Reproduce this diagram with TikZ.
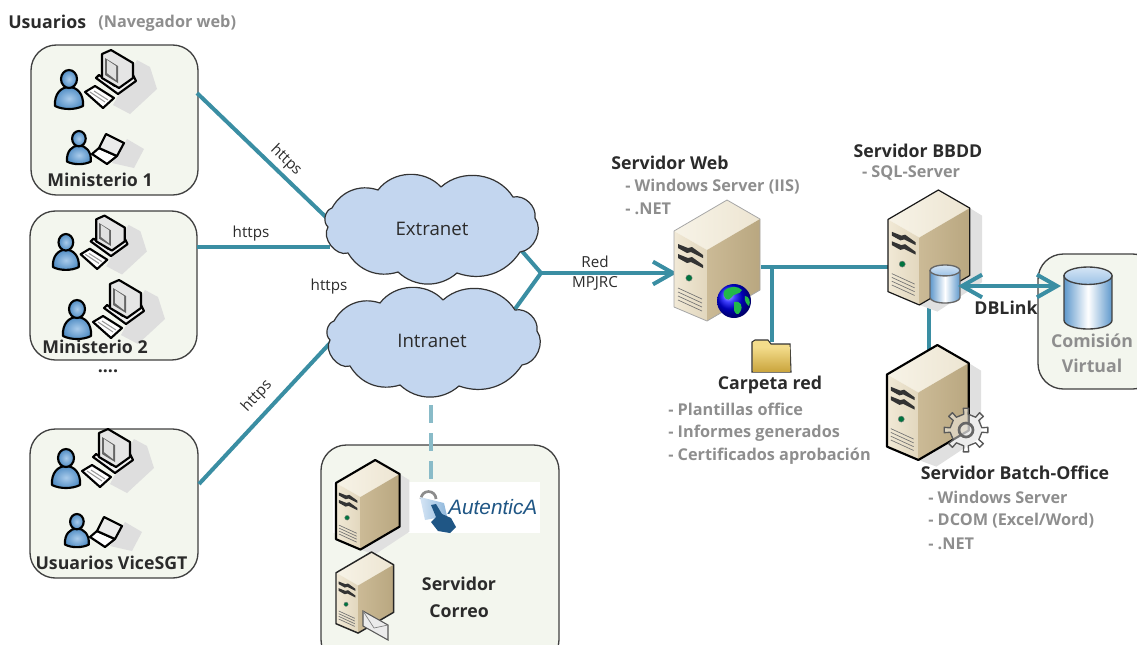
\documentclass[tikz,border=0pt]{standalone}
\usepackage{fontspec}
\setmainfont{Open Sans}
\usetikzlibrary{arrows.meta,calc}
\definecolor{teal1}{HTML}{3A8EA3}
\definecolor{boxfill}{HTML}{F3F6EE}
\definecolor{graytxt}{HTML}{8E8E8E}
\definecolor{darktxt}{HTML}{2B2B2B}
\definecolor{cloudfill}{HTML}{C3D6EF}
\definecolor{svtopa}{HTML}{F7F3E7}
\definecolor{svtopb}{HTML}{EDE5D2}
\definecolor{svlefta}{HTML}{F1E9D6}
\definecolor{sveftb}{HTML}{E2D7BE}
\definecolor{svra}{HTML}{CBBA96}
\definecolor{svrb}{HTML}{E6DCC5}
\definecolor{svrc}{HTML}{B9A780}
\definecolor{dbside}{HTML}{5E98CC}
\definecolor{dbtopa}{HTML}{D5E5F5}
\definecolor{dbtopb}{HTML}{9CC2E6}
\definecolor{persona}{HTML}{A9CBEB}
\definecolor{personb}{HTML}{4F8CC4}
\definecolor{hand}{HTML}{1F5685}
\definecolor{foldera}{HTML}{F3DC8B}
\definecolor{folderb}{HTML}{CBA63F}
\definecolor{globeland}{HTML}{22B84A}
\tikzset{
  conn/.style={draw=teal1,line width=3pt},
  headconn/.style={draw=teal1,line width=3pt,-{Straight Barb[length=15pt,width=17pt,line width=3pt]}},
  bothconn/.style={draw=teal1,line width=3pt,{Straight Barb[length=15pt,width=17pt,line width=3pt]}-{Straight Barb[length=15pt,width=17pt,line width=3pt]}},
  dashconn/.style={draw=teal1!60,line width=3pt,dash pattern=on 13.5pt off 7.5pt},
  roundbox/.style={draw=black!75,line width=1pt,fill=boxfill,rounded corners=19pt,inner sep=0pt},
  boldlbl/.style={font=\fontsize{13.3}{15}\selectfont\bfseries,text=darktxt,inner sep=0pt},
  graylbl/.style={font=\fontsize{12.2}{14}\selectfont\bfseries,text=graytxt,inner sep=0pt},
  smalllbl/.style={font=\fontsize{11.4}{13}\selectfont,text=darktxt,inner sep=0pt},
  cloudlbl/.style={font=\fontsize{14}{16}\selectfont,text=darktxt,inner sep=0pt},
  iconline/.style={draw=black,line width=1.6pt,line join=round},
}
\newcommand{\serverIcon}[5]{%
\begin{scope}[shift={(#1,#2)},scale=#3]
  \path[fill=#5] (86,19) -- (99,27) -- (99,97) -- (52,128) -- (33,121) -- cycle;
  \path[left color=svtopa,right color=svtopb] (0,31) -- (53,0) -- (86,19) -- (33,50) -- cycle;
  \path[left color=svlefta,right color=sveftb] (0,31) -- (33,50) -- (33,121) -- (0,107) -- cycle;
  \path[left color=svra,middle color=svrb,right color=svrc] (33,50) -- (86,19) -- (86,90) -- (33,121) -- cycle;
  \draw[#4,line join=round] (0,31) -- (53,0) -- (86,19) -- (86,90) -- (33,121) -- (0,107) -- cycle;
  \foreach \yy in {0,10}
    \fill[black!80] (4,{44+\yy}) -- (14,{48+\yy}) -- (18,{47+\yy}) -- (29,{55+\yy}) -- (29,{58+\yy}) -- (17,{52+\yy}) -- (13,{53+\yy}) -- (4,{48+\yy}) -- cycle;
  \fill[teal!70!green!70!black,draw=black!50,line width=.3pt] (15,78) circle (3.2);
  \foreach \yy in {0,4,8,12}
    \draw[black!55,line width=.5pt] (4,{88+\yy}) -- (28,{99+\yy});
\end{scope}}
\newcommand{\personIcon}{%
  \draw[iconline,inner color=persona,outer color=personb] (0,36) .. controls (-1,24) and (6,17) .. (14,17) .. controls (22,17) and (29,24) .. (28,36) .. controls (20,40) and (8,40) .. (0,36) -- cycle;
  \draw[iconline,inner color=persona,outer color=personb] (14,9) ellipse (8 and 9);
}
\newcommand{\deskUser}[3]{%
\begin{scope}[shift={(#1,#2)},scale=#3]
  \path[fill=black!13] (82,-10) -- (95,-3) -- (102,19) -- (75,44) -- (58,35) -- cycle;
  \personIcon
  \draw[iconline,fill=white] (30,22) -- (40,16) -- (59,28) -- (48,38) -- cycle;
  \draw[black!40,line width=.8pt] (35,22) -- (50,32) (39,21) -- (53,30);
  \draw[iconline,fill=black!6] (41,8) -- (63,24) -- (81,11) -- (78,5) -- (60,16) -- (44,5) -- cycle;
  \draw[iconline,fill=black!10] (47,-16) -- (56,-20) -- (78,-7) -- (78,8) -- (64,18) -- (47,8) -- cycle;
  \fill[black!60] (50,-12) -- (63,-4) -- (63,13) -- (50,5) -- cycle;
  \fill[black!12] (52,-10) -- (61,-4) -- (61,10) -- (52,3) -- cycle;
\end{scope}}
\newcommand{\lapUser}[3]{%
\begin{scope}[shift={(#1,#2)},scale=#3]
  \path[fill=black!13] (60,8) -- (77,18) -- (67,37) -- (45,32) -- cycle;
  \begin{scope}[scale=.85]\personIcon\end{scope}
  \draw[iconline,fill=white] (32,17) -- (50,25) -- (40,33) -- (25,23) -- cycle;
  \draw[iconline,fill=black!8] (39,3) -- (57,12) -- (50,25) -- (32,17) -- cycle;
\end{scope}}
\newcommand{\dbIcon}[5]{%
\begin{scope}[shift={(#1,#2)}]
  \pgfmathsetmacro{\rx}{#3/2}
  \pgfmathsetmacro{\ry}{#3/5.5}
  \draw[draw=#5,line width=1pt,left color=dbside,right color=dbside,middle color=white]
     (-\rx,\ry) -- (-\rx,{#4-\ry}) arc[start angle=180,end angle=360,x radius=\rx,y radius=-\ry] -- (\rx,\ry) -- cycle;
  \draw[draw=#5,line width=1pt,top color=dbtopa,bottom color=dbtopb] (0,\ry) ellipse ({\rx} and {\ry});
\end{scope}}
\newcommand{\cloudIcon}[2]{%
\begin{scope}[shift={(#1,#2)}]
 \draw[draw=black!80,line width=.9pt,fill=cloudfill]
  (121,7) to[bend left=50] (193,17) to[bend left=55] (215,38) to[bend left=60] (200,72)
  to[bend left=38] (137,93) to[bend left=42] (78,92) to[bend left=38] (28,73)
  to[bend left=70] (8,47) to[bend left=60] (12,28) to[bend left=40] (58,10) to[bend left=50] (121,7);
\end{scope}}
\begin{document}
\begin{tikzpicture}[x=.75pt,y=-.75pt]
\useasboundingbox (0,0) rectangle (1137,644);
\node[roundbox,minimum width=125.25pt,minimum height=112.5pt] (m1) at (114.5,120) {};
\node[roundbox,minimum width=125.25pt,minimum height=111.75pt] (m2) at (113.5,285.5) {};
\node[roundbox,minimum width=126pt,minimum height=111.75pt] (vice) at (114,503.5) {};
\node[roundbox,minimum width=178.5pt,minimum height=165pt] (correo) at (440,555) {};
\node[roundbox,minimum width=90pt,minimum height=101.25pt] (comis) at (1098,321.5) {};
\coordinate (m1out) at (197,93);
\coordinate (m2out) at (197,247);
\coordinate (viceout) at (199,484);
\coordinate (exin1) at (331,222);
\coordinate (exin2) at (330,247);
\coordinate (inin) at (331,342);
\coordinate (exout) at (521,250);
\coordinate (inout) at (515,309);
\coordinate (jn) at (541,273);
\coordinate (webin) at (677,273);
\coordinate (webout) at (761,267);
\coordinate (bbddin) at (889,267);
\coordinate (branch) at (772,267);
\coordinate (folderin) at (772,342);
\coordinate (bbddout) at (929,305);
\coordinate (batchin) at (929,350);
\coordinate (dbl) at (958,286);
\coordinate (dbr) at (1061,286);
\coordinate (intout) at (431,405);
\coordinate (autin) at (431,480);
\draw[conn] (m1out) -- (exin1);
\draw[conn] (m2out) -- (exin2);
\draw[conn] (viceout) -- (inin);
\draw[conn] (exout) -- (jn);
\draw[conn] (inout) -- (jn);
\draw[headconn] (jn) -- (webin);
\draw[conn] (webout) -- (bbddin);
\draw[conn] (branch) -- (folderin);
\draw[conn] (bbddout) -- (batchin);
\draw[dashconn] (intout) -- (autin);
\cloudIcon{320}{180}
\cloudIcon{322}{293}
\node[cloudlbl] (extranet) at (432,229) {Extranet};
\node[cloudlbl] (intranet) at (432,341) {Intranet};
\deskUser{55}{70}{1}
\lapUser{67}{131}{1}
\deskUser{53}{234}{.92}
\deskUser{63}{300}{1}
\deskUser{52}{449}{1}
\lapUser{65}{514}{1}
\serverIcon{674}{200}{1}{draw=black!35,line width=.6pt}{none}
\serverIcon{888}{190}{.95}{draw=black!90,line width=.9pt}{black!12}
\serverIcon{887}{345}{.95}{draw=black,line width=1.6pt}{black!12}
\shade[ball color=blue] (734,301) circle (17);
\fill[globeland] (724,291) .. controls (730,285) and (738,286) .. (742,290) .. controls (740,295) and (733,293) .. (731,298) .. controls (728,302) and (722,298) .. (724,291) -- cycle;
\fill[globeland] (734,302) .. controls (740,300) and (744,306) .. (740,312) .. controls (738,316) and (735,314) .. (734,310) -- cycle;
\fill[globeland] (745,296) .. controls (749,296) and (751,302) .. (749,306) .. controls (746,304) and (744,300) .. (745,296) -- cycle;
\draw[draw=black!80,line width=.8pt,fill=foldera] (752,372) -- (752,342) -- (755,340) -- (768,340) -- (771,344) -- (790,344) -- (791,372) -- cycle;
\path[top color=foldera,bottom color=folderb] (753,371) rectangle (790,347);
\dbIcon{945}{265}{30}{38}{black!60}
\dbIcon{1088}{267}{48}{62}{black!75}
\draw[bothconn] (dbl) -- (dbr);
\begin{scope}[shift={(966,430)}]
  \draw[draw=black!65,line width=1pt,fill=white,fill opacity=.45,line join=round] (-8:16) \foreach \aa in {0,45,...,315} { -- ({\aa-8}:16) -- ({\aa-7}:22) -- ({\aa+7}:22) -- ({\aa+8}:16) -- ({\aa+37}:16) } -- cycle;
  \draw[draw=black!60,line width=2pt,fill=black!8,fill opacity=.5] (0,0) circle (7);
\end{scope}
\fill[white] (333,482) rectangle (540,533);
\serverIcon{336}{460}{.74}{draw=black,line width=1.6pt}{black!12}
\draw[black!45,line width=2pt] (421,499) arc[start angle=180,end angle=360,radius=7.5];
\path[left color=dbtopa,right color=dbside!70] (420,497) -- (444,503) -- (447,516) -- (425,520) -- cycle;
\fill[hand] (431,505) -- (436,504) -- (442,514) -- (451,518) -- (456,527) -- (450,533) -- (438,531) -- (431,522) -- (436,517) -- cycle;
\node[font=\fontspec{Liberation Sans}\fontsize{15.6}{17}\selectfont\itshape,text=hand,inner sep=0pt,anchor=west] (autentica) at (448,507) {AutenticA};
\serverIcon{336}{552}{.67}{draw=black!85,line width=1.1pt}{none}
\draw[draw=black!65,line width=.8pt,fill=white!92!black] (363,611) -- (388,625) -- (388,640) -- (363,626) -- cycle;
\draw[draw=black!50,line width=.5pt] (363,611) -- (374,628) -- (388,625);
\node[boldlbl,anchor=west] (usuarios) at (8,22) {Usuarios};
\node[graylbl,anchor=west] (naveg) at (98,23) {(Navegador web)};
\node[boldlbl] (l1) at (100,180) {Ministerio 1};
\node[boldlbl] (l2) at (95,347) {Ministerio 2};
\node[boldlbl] (dots) at (108,371) {....};
\node[boldlbl] (l3) at (111.5,563) {Usuarios ViceSGT};
\node[smalllbl,rotate=-44] (h1) at (286,160) {https};
\node[smalllbl] (h2) at (251,234) {https};
\node[smalllbl] (h3) at (329,287) {https};
\node[smalllbl,rotate=47] (h4) at (257,396) {https};
\node[smalllbl] (red) at (595,262) {Red};
\node[smalllbl] (mpjrc) at (595,283) {MPJRC};
\node[boldlbl] (sweb) at (670,163) {Servidor Web};
\node[graylbl,anchor=west] (sw1) at (625,187) {- Windows Server (IIS)};
\node[graylbl,anchor=west] (sw2) at (625,209) {- .NET};
\node[boldlbl] (sbd) at (918,151) {Servidor BBDD};
\node[graylbl] (sbd1) at (911,173) {- SQL-Server};
\node[boldlbl] (carp) at (770,385) {Carpeta red};
\node[graylbl,anchor=west] (c1) at (668,409) {- Plantillas office};
\node[graylbl,anchor=west] (c2) at (668,433) {- Informes generados};
\node[graylbl,anchor=west] (c3) at (668,456) {- Certificados aprobación};
\node[boldlbl] (sb) at (1015,473) {Servidor Batch-Office};
\node[graylbl,anchor=west] (b1) at (928,497) {- Windows Server};
\node[graylbl,anchor=west] (b2) at (928,521) {- DCOM (Excel/Word)};
\node[graylbl,anchor=west] (b3) at (928,544) {- .NET};
\node[boldlbl] (dbl1) at (1006,308) {DBLink};
\node[boldlbl,text=graytxt] (cv1) at (1092,341) {Comisión};
\node[boldlbl,text=graytxt] (cv2) at (1092,366) {Virtual};
\node[boldlbl] (sc1) at (459,584) {Servidor};
\node[boldlbl] (sc2) at (459,611) {Correo};
\end{tikzpicture}
\end{document}
